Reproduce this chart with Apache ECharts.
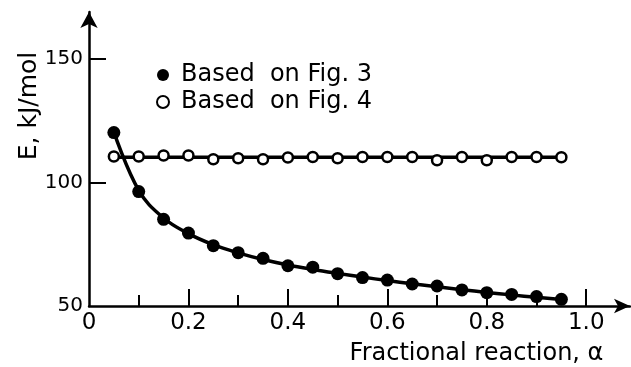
<!DOCTYPE html>
<html>
<head>
<meta charset="utf-8">
<script src="https://cdn.jsdelivr.net/npm/echarts@6/dist/echarts.min.js"></script>
<style>
html,body{margin:0;padding:0;background:#fff;}
#c{width:631px;height:367px;}
</style>
</head>
<body>
<div id="c"></div>
<script>
// Data
const alpha = [0.05,0.10,0.15,0.20,0.25,0.30,0.35,0.40,0.45,0.50,0.55,0.60,0.65,0.70,0.75,0.80,0.85,0.90,0.95];
const eFig3 = [120.2,96.3,85.1,79.5,74.4,71.6,69.3,66.3,65.7,63.1,61.5,60.5,58.9,58.1,56.5,55.4,54.7,53.8,52.7];
const eFig4 = [110.5,110.5,110.9,110.9,109.4,109.8,109.4,110.1,110.3,109.8,110.3,110.3,110.3,109.0,110.3,109.0,110.3,110.3,110.2];
const fit3 = [120.5,96.8,85.6,79.3,74.8,71.5,68.8,66.6,64.8,63.2,61.7,60.3,59.0,57.8,56.6,55.5,54.5,53.5,52.6];
const fit4X = [0.05,0.95];
const fit4 = [110.2,110.2];
const xMajorTicks = [0.2,0.4,0.6,0.8,1.0];
const xMinorTicks = [0.1,0.3,0.5,0.7,0.9];
const xLabels = [0,0.2,0.4,0.6,0.8,1.0];
const yTicks = [100,150];
const yLabels = [50,100,150];
const seriesNames = ['Based  on Fig. 3','Based  on Fig. 4'];

const zip = (xs, ys) => xs.map((x,i)=>[x, ys[i]]);
const FONT = 'DejaVu Sans';
const chart = echarts.init(document.getElementById('c'), null, {renderer:'canvas'});
chart.setOption({
  animation:false,
  backgroundColor:'#fff',
  textStyle:{fontFamily:FONT,color:'#000'},
  grid:{left:89,right:1,top:12,bottom:61,containLabel:false,outerBoundsMode:'none'},
  legend:{
    data:seriesNames,
    orient:'vertical',
    left:151, top:58,
    itemWidth:12, itemHeight:12, itemGap:3,
    textStyle:{fontFamily:FONT,fontSize:24,color:'#000',padding:[0,0,0,7]}
  },
  xAxis:[{
    type:'value', min:0, max:1.088, position:'bottom',
    axisLine:{show:true,lineStyle:{color:'#000',width:2.5},symbol:['none','arrow'],symbolSize:[11,16]},
    axisTick:{show:true,inside:true,length:17,lineStyle:{color:'#000',width:2},customValues:xMajorTicks},
    axisLabel:{show:true,customValues:xLabels,fontFamily:FONT,fontSize:23,color:'#000',margin:6,
      formatter:v=> v===0 ? '0' : v.toFixed(1)},
    splitLine:{show:false},
    name:'Fractional reaction, α', nameLocation:'middle', nameGap:36, nameMoveOverlap:false,
    nameTextStyle:{fontFamily:FONT,fontSize:24,color:'#000',padding:[0,0,0,234]}
  },{
    type:'value', min:0, max:1.088, position:'bottom',
    axisLine:{show:false},
    axisTick:{show:true,inside:true,length:11,lineStyle:{color:'#000',width:2},customValues:xMinorTicks},
    axisLabel:{show:false},
    splitLine:{show:false}
  }],
  yAxis:{
    type:'value', min:50, max:169,
    axisLine:{show:true,lineStyle:{color:'#000',width:2.5},symbol:['none','arrow'],symbolSize:[13,16]},
    axisTick:{show:true,inside:true,length:17,lineStyle:{color:'#000',width:2},customValues:yTicks},
    axisLabel:{show:true,customValues:yLabels,fontFamily:FONT,fontSize:20,color:'#000',margin:6},
    splitLine:{show:false},
    name:'E, kJ/mol', nameLocation:'middle', nameGap:47, nameMoveOverlap:false,
    nameTextStyle:{fontFamily:FONT,fontSize:25,color:'#000',padding:[0,0,0,106]}
  },
  series:[
    {name:'fit3',type:'line',data:zip(alpha,fit3),smooth:0.4,showSymbol:false,
     lineStyle:{color:'#000',width:3.5},silent:true,z:2},
    {name:'fit4',type:'line',data:zip(fit4X,fit4),showSymbol:false,
     lineStyle:{color:'#000',width:3.5},silent:true,z:2},
    {name:seriesNames[0],type:'scatter',data:zip(alpha,eFig3),symbol:'circle',symbolSize:13,
     itemStyle:{color:'#000',opacity:1},z:3},
    {name:seriesNames[1],type:'scatter',data:zip(alpha,eFig4),symbol:'circle',symbolSize:10,
     itemStyle:{color:'#fff',borderColor:'#000',borderWidth:2.5,opacity:1},z:3}
  ]
});
</script>
</body>
</html>
